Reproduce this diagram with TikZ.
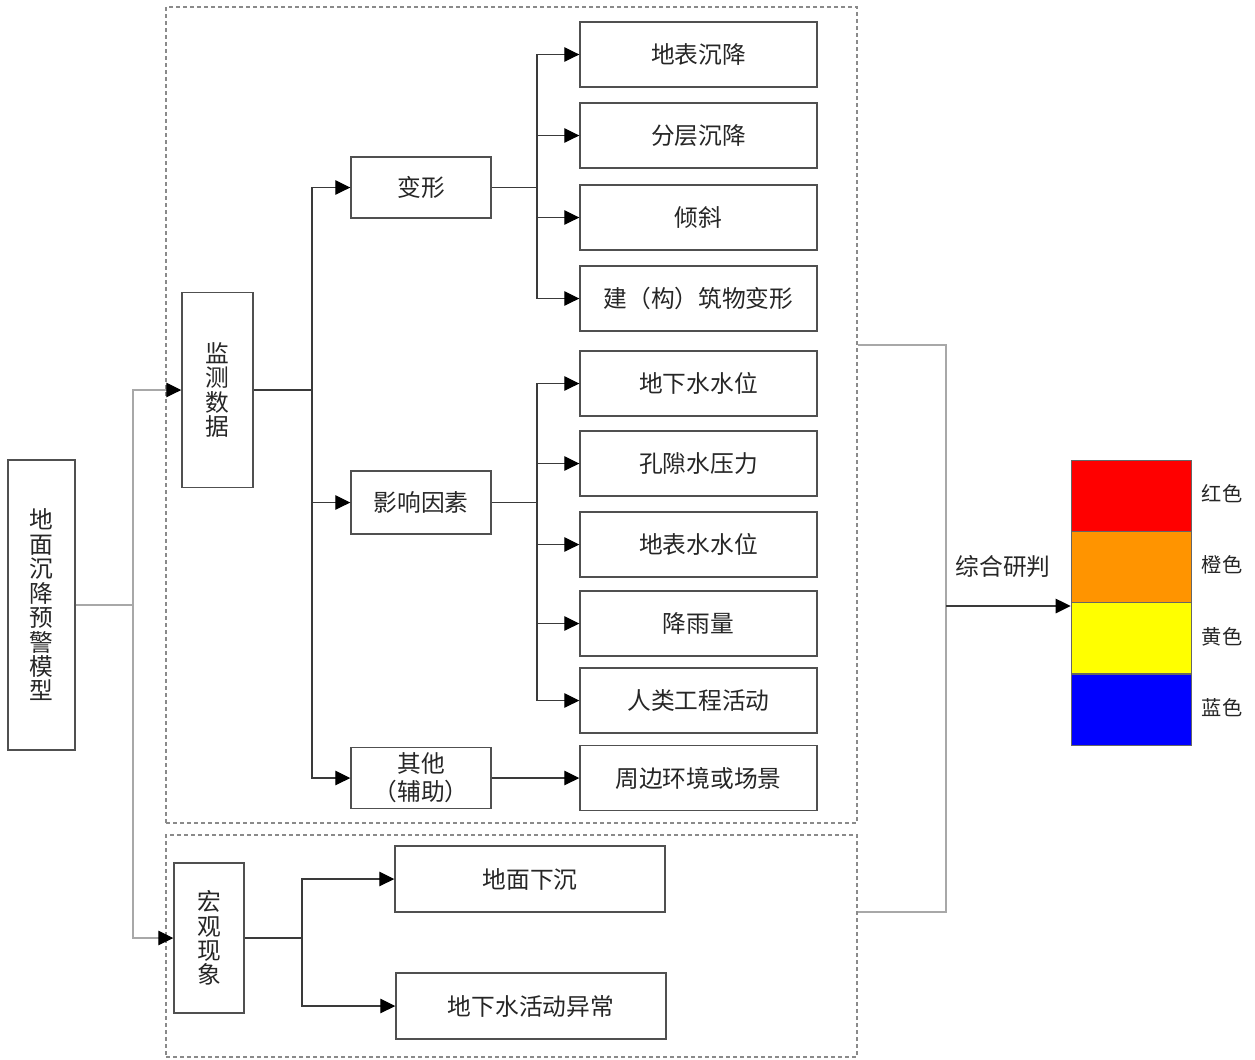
\documentclass[tikz,border=0pt]{standalone}
\usepackage{fontspec}
\setmainfont{Noto Sans CJK SC}
\usetikzlibrary{arrows.meta}
\definecolor{boxline}{HTML}{505050}
\definecolor{conline}{HTML}{3A3A3A}
\definecolor{lightline}{HTML}{A8A8A8}
\definecolor{dashline}{HTML}{8A8A8A}
\definecolor{cred}{HTML}{FF0000}
\definecolor{corange}{HTML}{FF9400}
\definecolor{cyellow}{HTML}{FFFF00}
\definecolor{cblue}{HTML}{0000FF}
\begin{document}
\begin{tikzpicture}[x=0.2mm,y=-0.2mm,
  txt/.style={font=\fontsize{13.5}{13.9}\selectfont, text=black!85},
  bx/.style 2 args={draw=boxline, line width=0.8pt, fill=white, inner sep=0pt,
     minimum width=#1*0.2mm, minimum height=#2*0.2mm, txt, align=center},
  dashbox/.style 2 args={draw=dashline, line width=0.6pt, dash pattern=on 0.8mm off 0.6mm,
     inner sep=0pt, minimum width=#1*0.2mm, minimum height=#2*0.2mm},
  cbox/.style={draw=black!60, line width=0.4pt, inner sep=0pt,
     minimum width=120*0.2mm, minimum height=71.3*0.2mm},
  conn/.style={draw=conline, line width=0.7pt},
  arr/.style={conn, -{Triangle[length=3mm,width=2.9mm,fill=black,color=black]}},
  gline/.style={draw=lightline, line width=0.7pt},
  garr/.style={gline, -{Triangle[length=3mm,width=2.9mm,fill=black,color=black]}},
  lab/.style={font=\fontsize{11.5}{12}\selectfont, text=black!85, inner sep=0pt}
]
\useasboundingbox (0,0) rectangle (1255,1059);

% dashed groups
\node[dashbox={691}{816}] (topbox) at (511.5,415) {};
\node[dashbox={691}{222}] (botbox) at (511.5,946) {};

% main boxes
\node[bx={67}{290}] (main) at (41.5,605) {地\\面\\沉\\降\\预\\警\\模\\型};
\node[bx={71}{195}] (jc) at (217.5,390) {监\\测\\数\\据};
\node[bx={70}{150}] (hg) at (209,938) {宏\\观\\现\\象};

\node[bx={140}{61}] (bxn) at (421,187.5) {变形};
\node[bx={140}{63}] (yx) at (421,502.5) {影响因素};
\node[bx={140}{61}, font=\fontsize{13.5}{16}\selectfont] (qt) at (421,778) {其他\\（辅助）};

\node[bx={237}{65}] (r1) at (698.5,54.5) {地表沉降};
\node[bx={237}{65}] (r2) at (698.5,135.5) {分层沉降};
\node[bx={237}{65}] (r3) at (698.5,217.5) {倾斜};
\node[bx={237}{65}] (r4) at (698.5,298.5) {建（构）筑物变形};
\node[bx={237}{65}] (r5) at (698.5,383.5) {地下水水位};
\node[bx={237}{65}] (r6) at (698.5,463.5) {孔隙水压力};
\node[bx={237}{65}] (r7) at (698.5,544.5) {地表水水位};
\node[bx={237}{65}] (r8) at (698.5,623.5) {降雨量};
\node[bx={237}{65}] (r9) at (698.5,700.5) {人类工程活动};
\node[bx={237}{65}] (r10) at (698.5,778) {周边环境或场景};

\node[bx={270}{66}] (g1) at (530,879) {地面下沉};
\node[bx={270}{66}] (g2) at (531,1006) {地下水活动异常};

% colour scale
\node[cbox, fill=cred] (c1) at (1131,495.5) {};
\node[cbox, fill=corange] (c2) at (1131,566.5) {};
\node[cbox, fill=cyellow] (c3) at (1131,638) {};
\node[cbox, fill=cblue] (c4) at (1131,709.5) {};
\node[lab] (l1) at (1222,494) {红色};
\node[lab] (l2) at (1222,565) {橙色};
\node[lab] (l3) at (1222,637) {黄色};
\node[lab] (l4) at (1222,708) {蓝色};
\node[txt, inner sep=0pt] (zh) at (1003,566) {综合研判};

% junctions
\coordinate (j1) at (133,605);
\coordinate (j2) at (312,390);
\coordinate (j3) at (537,187.5);
\coordinate (j4) at (537,502.5);
\coordinate (j5) at (302,938);
\coordinate (br1) at (946,345);
\coordinate (br2) at (946,912);
\coordinate (jr) at (946,606);

% connectors
\draw[gline] (main.east) -- (j1);
\draw[garr] (j1) |- (jc.west);
\draw[garr] (j1) |- (hg.west);

\draw[conn] (jc.east) -- (j2);
\draw[arr] (j2) |- (bxn.west);
\draw[arr] (j2) |- (yx.west);
\draw[arr] (j2) |- (qt.west);

\draw[conn] (bxn.east) -- (j3);
\foreach \n in {r1,r2,r3,r4} \draw[arr] (j3) |- (\n.west);
\draw[conn] (yx.east) -- (j4);
\foreach \n in {r5,r6,r7,r8,r9} \draw[arr] (j4) |- (\n.west);
\draw[arr] (qt.east) -- (r10.west);

\draw[conn] (hg.east) -- (j5);
\draw[arr] (j5) |- (g1.west);
\draw[arr] (j5) |- (g2.west);

\draw[gline] (topbox.east |- br1) -- (br1) -- (br2) -- (botbox.east |- br2);
\draw[arr] (jr) -- (jr -| c3.west);
\end{tikzpicture}
\end{document}
